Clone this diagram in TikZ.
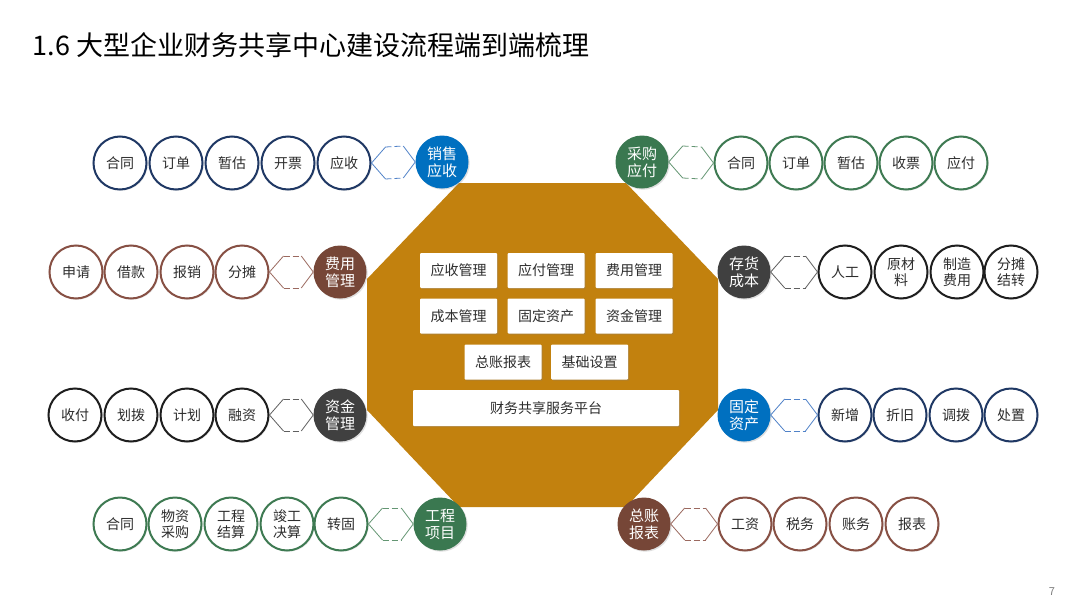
\documentclass[tikz,border=0pt]{standalone}
\usepackage{fontspec}
\setmainfont{Noto Sans CJK SC}
\usetikzlibrary{shadows,calc}
\definecolor{octa}{RGB}{194,129,14}
\definecolor{txt}{RGB}{45,45,45}
\definecolor{navy}{RGB}{31,56,100}
\definecolor{bluehub}{RGB}{0,112,192}
\definecolor{blueconn}{RGB}{80,130,200}
\definecolor{greenout}{RGB}{62,122,82}
\definecolor{greenhub}{RGB}{58,120,80}
\definecolor{greenconn}{RGB}{100,150,115}
\definecolor{brownout}{RGB}{135,80,68}
\definecolor{brownhub}{RGB}{118,70,55}
\definecolor{brownconn}{RGB}{155,105,95}
\definecolor{darkout}{RGB}{30,30,30}
\definecolor{darkhub}{RGB}{64,64,64}
\definecolor{darkconn}{RGB}{95,95,95}
\tikzset{
  leaf/.style={circle, draw=#1, line width=2pt, fill=white, minimum size=53pt,
    inner sep=0pt, align=center, text=txt, font=\fontsize{14}{16}\selectfont,
    drop shadow={opacity=0.18, shadow xshift=1.2pt, shadow yshift=-1.2pt}},
  hub/.style={circle, fill=#1, minimum size=53pt, inner sep=0pt, align=center,
    text=white, font=\fontsize{15}{17}\selectfont,
    drop shadow={opacity=0.25, shadow xshift=1.2pt, shadow yshift=-1.2pt}},
  modbox/.style={fill=white, minimum width=77pt, minimum height=35pt, inner sep=0pt,
    rounded corners=1pt, text=txt, font=\fontsize{14}{16}\selectfont,
    drop shadow={opacity=0.3, shadow xshift=1.2pt, shadow yshift=-1.2pt}},
  conn/.style={draw=#1, line width=0.8pt},
}
\newcommand{\hexconn}[3]{%
  \draw[conn=#1] (#2.east) -- ++(14,-16) (#2.east) -- ++(14,16);
  \draw[conn=#1] (#3.west) -- ++(-12,-16) (#3.west) -- ++(-12,16);
  \draw[conn=#1, dash pattern=on 6pt off 3pt] ($(#2.east)+(14,-16)$) -- ($(#3.west)+(-12,-16)$);
  \draw[conn=#1, dash pattern=on 6pt off 3pt] ($(#2.east)+(14,16)$) -- ($(#3.west)+(-12,16)$);
}
\begin{document}
\begin{tikzpicture}[x=1pt,y=-1pt]
\useasboundingbox (0,0) rectangle (1080,608);
\fill[white] (0,0) rectangle (1080,608);

\node[anchor=west, text=black, font=\fontsize{27}{30}\selectfont] (title) at (29,45) {1.6 大型企业财务共享中心建设流程端到端梳理};
\node[text=gray, font=\fontsize{11}{13}\selectfont] (pg) at (1052,592) {7};

% octagon
\fill[octa] (459,183) -- (626,183) -- (718,279) -- (718,410) -- (626,507) -- (459,507) -- (367,410) -- (367,279) -- cycle;

% inner modules
\node[modbox] (m1) at (458.5,270.5) {应收管理};
\node[modbox] (m2) at (546,270.5) {应付管理};
\node[modbox] (m3) at (634,270.5) {费用管理};
\node[modbox] (m4) at (458.5,316) {成本管理};
\node[modbox] (m5) at (546,316) {固定资产};
\node[modbox] (m6) at (634,316) {资金管理};
\node[modbox] (m7) at (503,362) {总账报表};
\node[modbox] (m8) at (589.5,362) {基础设置};
\node[modbox, minimum width=266pt, minimum height=36pt] (m9) at (546,408) {财务共享服务平台};

% Row 1 left
\node[leaf=navy] (a1) at (120,163) {合同};
\node[leaf=navy] (a2) at (176,163) {订单};
\node[leaf=navy] (a3) at (232,163) {暂估};
\node[leaf=navy] (a4) at (288,163) {开票};
\node[leaf=navy] (a5) at (344,163) {应收};
\node[hub=bluehub] (ha) at (442,162) {销售\\应收};
\hexconn{blueconn}{a5}{ha}

% Row 1 right
\node[hub=greenhub] (hb) at (642,162) {采购\\应付};
\node[leaf=greenout] (b1) at (741,163) {合同};
\node[leaf=greenout] (b2) at (796,163) {订单};
\node[leaf=greenout] (b3) at (851,163) {暂估};
\node[leaf=greenout] (b4) at (906,163) {收票};
\node[leaf=greenout] (b5) at (961,163) {应付};
\hexconn{greenconn}{hb}{b1}

% Row 2 left
\node[leaf=brownout] (c1) at (76,272) {申请};
\node[leaf=brownout] (c2) at (131,272) {借款};
\node[leaf=brownout] (c3) at (187,272) {报销};
\node[leaf=brownout] (c4) at (242,272) {分摊};
\node[hub=brownhub] (hc) at (340,272) {费用\\管理};
\hexconn{brownconn}{c4}{hc}

% Row 2 right
\node[hub=darkhub] (hd) at (744,272) {存货\\成本};
\node[leaf=darkout] (d1) at (845,272) {人工};
\node[leaf=darkout] (d2) at (901,272) {原材\\料};
\node[leaf=darkout] (d3) at (957,272) {制造\\费用};
\node[leaf=darkout] (d4) at (1011,272) {分摊\\结转};
\hexconn{darkconn}{hd}{d1}

% Row 3 left
\node[leaf=darkout] (e1) at (75,415) {收付};
\node[leaf=darkout] (e2) at (131,415) {划拨};
\node[leaf=darkout] (e3) at (187,415) {计划};
\node[leaf=darkout] (e4) at (242,415) {融资};
\node[hub=darkhub] (he) at (340,415) {资金\\管理};
\hexconn{darkconn}{e4}{he}

% Row 3 right
\node[hub=bluehub] (hf) at (744,415) {固定\\资产};
\node[leaf=navy] (f1) at (845,415) {新增};
\node[leaf=navy] (f2) at (900,415) {折旧};
\node[leaf=navy] (f3) at (956,415) {调拨};
\node[leaf=navy] (f4) at (1011,415) {处置};
\hexconn{blueconn}{hf}{f1}

% Row 4 left
\node[leaf=greenout] (g1) at (120,524) {合同};
\node[leaf=greenout] (g2) at (175,524) {物资\\采购};
\node[leaf=greenout] (g3) at (231,524) {工程\\结算};
\node[leaf=greenout] (g4) at (287,524) {竣工\\决算};
\node[leaf=greenout] (g5) at (341,524) {转固};
\node[hub=greenhub] (hg) at (440,524) {工程\\项目};
\hexconn{greenconn}{g5}{hg}

% Row 4 right
\node[hub=brownhub] (hh) at (644,524) {总账\\报表};
\node[leaf=brownout] (h1) at (745,524) {工资};
\node[leaf=brownout] (h2) at (800,524) {税务};
\node[leaf=brownout] (h3) at (856,524) {账务};
\node[leaf=brownout] (h4) at (912,524) {报表};
\hexconn{brownconn}{hh}{h1}
\end{tikzpicture}
\end{document}
